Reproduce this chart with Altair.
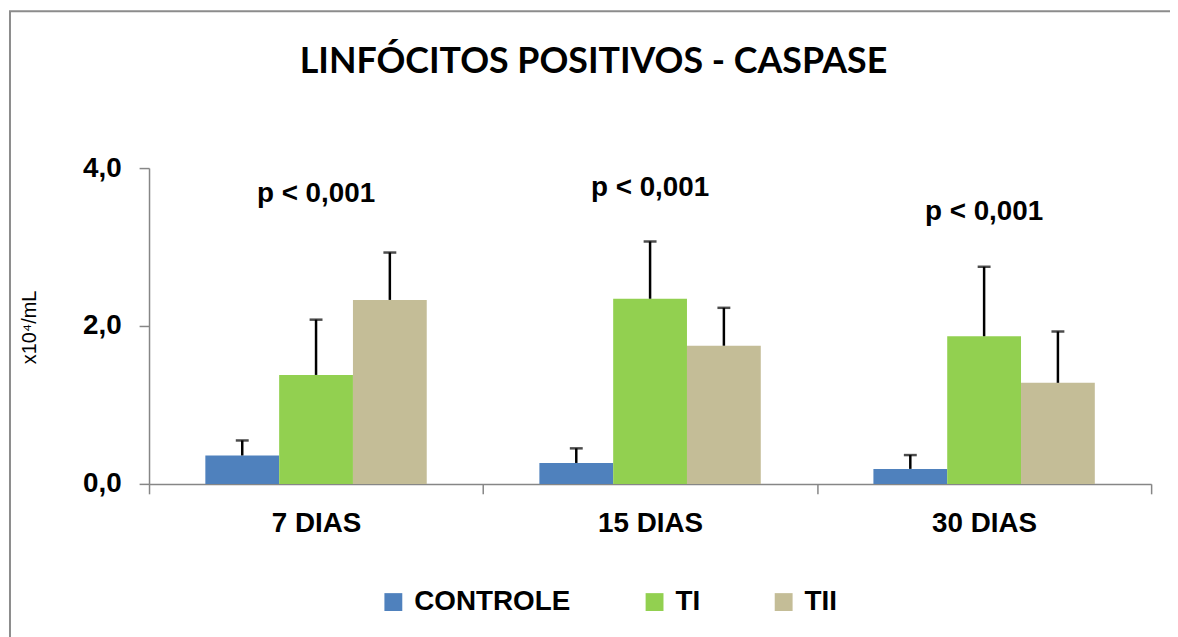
import altair as alt
import pandas as pd

# ---- data ----
days = ["7 DIAS", "15 DIAS", "30 DIAS"]
groups = ["CONTROLE", "TI", "TII"]
colors = ["#4F81BD", "#92D050", "#C4BD97"]

controle_mean = [0.36, 0.265, 0.19]
controle_sd = [0.19, 0.185, 0.175]
ti_mean = [1.38, 2.345, 1.87]
ti_sd = [0.70, 0.725, 0.88]
tii_mean = [2.33, 1.75, 1.28]
tii_sd = [0.60, 0.48, 0.65]

p_labels = ["p < 0,001", "p < 0,001", "p < 0,001"]
p_label_y = [3.67, 3.75, 3.44]

y_ticks = [0, 2, 4]

# ---- tables ----
rows = []
for g, means, sds in zip(groups, [controle_mean, ti_mean, tii_mean], [controle_sd, ti_sd, tii_sd]):
    for d, m, s in zip(days, means, sds):
        rows.append({"dia": d, "grupo": g, "media": m, "topo": m + s})
df = pd.DataFrame(rows)
df_p = pd.DataFrame({"dia": days, "media": p_label_y, "txt": p_labels})
df_frame = pd.DataFrame({"a": [0]})

W, H = 1009, 318
FONT = "Liberation Sans"
AX = "#868686"

x_axis = alt.Axis(
    title=None, labelAngle=0, tickBand="extent", tickSize=10, tickColor=AX,
    domainColor=AX, domainWidth=1.5, tickWidth=1.5,
    labelFont=FONT, labelFontSize=28, labelFontWeight="bold", labelColor="black",
    labelPadding=16,
)
x_enc = alt.X("dia:N", sort=days, scale=alt.Scale(paddingInner=0, paddingOuter=0), axis=x_axis)

y_axis = alt.Axis(
    title="x10⁴/mL", values=y_ticks, grid=False,
    labelExpr="replace(format(datum.value, '.1f'), '.', ',')",
    tickSize=10, tickColor=AX, domainColor=AX, domainWidth=1.5, tickWidth=1.5,
    labelFont=FONT, labelFontSize=28, labelFontWeight="bold", labelColor="black",
    labelPadding=18,
    titleFont=FONT, titleFontSize=20, titleFontWeight="normal", titleColor="black",
    titleAngle=270, titleX=-120, titleY=160, titleAlign="center", titleBaseline="middle",
)
y_scale = alt.Scale(domain=[0, 4], nice=False)
xoff = alt.XOffset("grupo:N", sort=groups, scale=alt.Scale(paddingInner=0, paddingOuter=0.763))

frame = alt.Chart(df_frame).mark_rect(
    fill="white", fillOpacity=0, stroke="#8C8C8C", strokeWidth=2
).encode(
    x=alt.value(-140), x2=alt.value(1080), y=alt.value(-158), y2=alt.value(520)
)

bars = alt.Chart(df).mark_bar(size=74.3).encode(
    x=x_enc,
    xOffset=xoff,
    y=alt.Y("media:Q", scale=y_scale, axis=y_axis),
    color=alt.Color(
        "grupo:N", sort=groups,
        scale=alt.Scale(domain=groups, range=colors),
        legend=alt.Legend(
            orient="none", legendX=232, legendY=423, direction="horizontal", title=None,
            symbolType="square", symbolSize=324, symbolStrokeWidth=0,
            labelFont=FONT, labelFontSize=28, labelFontWeight="bold", labelColor="black",
            columnPadding=70, labelOffset=7,
        ),
    ),
)

err = alt.Chart(df).mark_rule(color="black", strokeWidth=2.5).encode(
    x=x_enc, xOffset=xoff,
    y=alt.Y("media:Q", scale=y_scale, axis=y_axis), y2="topo:Q",
)

caps = alt.Chart(df).mark_tick(color="black", thickness=2.5, size=13).encode(
    x=x_enc, xOffset=xoff,
    y=alt.Y("topo:Q", scale=y_scale, axis=y_axis),
)

ptext = alt.Chart(df_p).mark_text(
    font=FONT, fontSize=28, fontWeight="bold", color="black", baseline="middle", align="center"
).encode(
    x=x_enc,
    y=alt.Y("media:Q", scale=y_scale, axis=y_axis),
    text="txt:N",
)

chart = alt.layer(frame, bars, err, caps, ptext).properties(
    width=W, height=H,
    autosize=alt.AutoSizeParams(type="none"),
    padding={"left": 142, "top": 159, "right": 19, "bottom": 152},
    title=alt.TitleParams(
        "LINFÓCITOS POSITIVOS - CASPASE", font="Lato", fontSize=36, fontWeight="bold",
        color="black", anchor="middle", frame="group", dx=-57, offset=-99, baseline="alphabetic",
    ),
    background="white",
).configure_view(strokeWidth=0)

chart.save("out.html", embed_options={"renderer": "svg", "actions": False})
